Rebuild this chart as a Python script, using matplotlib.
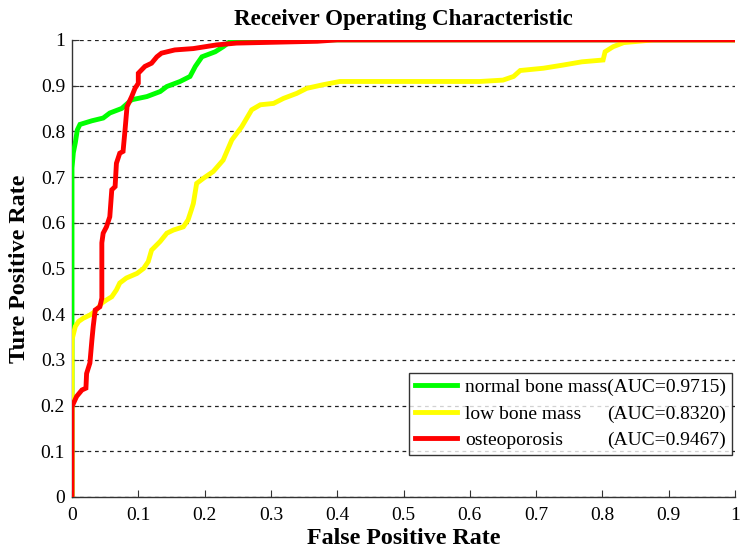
import matplotlib
matplotlib.use("Agg")
import matplotlib.pyplot as plt
import numpy as np

# ---- data ----
names = ["normal bone mass", "low bone mass", "osteoporosis"]
aucs = ["0.9715", "0.8320", "0.9467"]
colors = ["#00FF00", "#FFFF00", "#FF0000"]

fpr_normal = [0, 0, 0.002, 0.005, 0.008, 0.012, 0.03, 0.047, 0.057, 0.075, 0.09, 0.113,
              0.133, 0.143, 0.163, 0.178, 0.186, 0.196, 0.216, 0.228, 0.238, 0.245, 1.0]
tpr_normal = [0, 0.72, 0.753, 0.775, 0.803, 0.815, 0.823, 0.829, 0.84, 0.85, 0.869, 0.876,
              0.887, 0.898, 0.909, 0.92, 0.942, 0.963, 0.974, 0.985, 0.996, 1.0, 1.0]

fpr_low = [0, 0, 0.005, 0.01, 0.017, 0.027, 0.035, 0.045, 0.052, 0.06, 0.067, 0.072, 0.082,
           0.098, 0.108, 0.115, 0.12, 0.133, 0.143, 0.153, 0.168, 0.175, 0.18, 0.183, 0.188,
           0.198, 0.213, 0.228, 0.241, 0.256, 0.271, 0.284, 0.304, 0.319, 0.339, 0.354,
           0.379, 0.404, 0.44, 0.615, 0.65, 0.666, 0.676, 0.711, 0.741, 0.769, 0.801, 0.804,
           0.816, 0.832, 0.877, 1.0]
tpr_low = [0, 0.344, 0.373, 0.384, 0.391, 0.398, 0.406, 0.424, 0.431, 0.438, 0.453, 0.468, 0.479,
           0.489, 0.5, 0.515, 0.54, 0.559, 0.577, 0.584, 0.591, 0.606, 0.628, 0.642, 0.686,
           0.697, 0.712, 0.737, 0.781, 0.81, 0.847, 0.858, 0.861, 0.872, 0.883, 0.894,
           0.902, 0.909, 0.909, 0.909, 0.912, 0.92, 0.933, 0.938, 0.945, 0.952, 0.956, 0.974,
           0.985, 0.994, 1.0, 1.0]

fpr_osteo = [0, 0, 0.007, 0.015, 0.021, 0.022, 0.027, 0.03, 0.032, 0.035, 0.042, 0.045, 0.045,
             0.047, 0.052, 0.057, 0.06, 0.065, 0.067, 0.072, 0.077, 0.08, 0.083, 0.09, 0.095,
             0.1, 0.1, 0.11, 0.12, 0.128, 0.135, 0.155, 0.183, 0.218, 0.248, 0.37, 0.40, 1.0]
tpr_osteo = [0, 0.198, 0.22, 0.234, 0.238, 0.27, 0.293, 0.343, 0.373, 0.409, 0.416, 0.435, 0.556,
             0.577, 0.591, 0.613, 0.672, 0.679, 0.73, 0.752, 0.756, 0.803, 0.854, 0.876, 0.894,
             0.905, 0.927, 0.942, 0.949, 0.963, 0.971, 0.978, 0.981, 0.989, 0.993, 0.997, 1.0, 1.0]

x_ticks = [0, 0.1, 0.2, 0.3, 0.4, 0.5, 0.6, 0.7, 0.8, 0.9, 1]
y_ticks = [0, 0.1, 0.2, 0.3, 0.4, 0.5, 0.6, 0.7, 0.8, 0.9, 1]
tick_labels = ["0", "0.1", "0.2", "0.3", "0.4", "0.5", "0.6", "0.7", "0.8", "0.9", "1"]

plt.rcParams["font.family"] = ["Liberation Serif", "DejaVu Serif"]

fig = plt.figure(figsize=(7.4, 5.54), dpi=100)
ax = fig.add_axes([0.0973, 0.103, 0.896, 0.825])

lw = 3.5
series = [(fpr_normal, tpr_normal), (fpr_low, tpr_low), (fpr_osteo, tpr_osteo)]
lines = []
for (fx, ty), c in zip(series, colors):
    ln, = ax.plot(fx, ty, color=c, lw=lw, solid_joinstyle="miter", zorder=3)
    lines.append(ln)

ax.set_xlim(0, 1)
ax.set_ylim(0, 1)
ax.set_xticks(x_ticks)
ax.set_xticklabels(tick_labels)
ax.set_yticks(y_ticks)
ax.set_yticklabels(tick_labels)
ax.tick_params(direction="in", length=5, labelsize=14, colors="#333333", labelcolor="black")
ax.tick_params(axis="x", pad=7)
ax.tick_params(axis="y", pad=5)
for s in ["top", "right"]:
    ax.spines[s].set_visible(False)
for s in ["left", "bottom"]:
    ax.spines[s].set_color("#333333")
    ax.spines[s].set_linewidth(1.0)
ax.yaxis.grid(True, linestyle=(0, (3, 3)), color="#222222", linewidth=0.9)
ax.set_axisbelow(True)

ax.set_title("Receiver Operating Characteristic", fontsize=16.6, fontweight="bold", pad=11)
ax.set_xlabel("False Positive Rate", fontsize=17.3, fontweight="bold", labelpad=3)
ax.set_ylabel("Ture Positive Rate", fontsize=17.3, fontweight="bold", labelpad=8)

labels = [names[0] + "(AUC=" + aucs[0] + ")", names[1], names[2]]
leg = ax.legend(lines, labels, loc="lower right", bbox_to_anchor=(0.9955, 0.092),
                fontsize=14, frameon=True, fancybox=False, edgecolor="black",
                handlelength=2.2, handletextpad=0.4, borderpad=0.3, labelspacing=0.45,
                borderaxespad=0)
leg.get_frame().set_linewidth(1.0)
for h in leg.get_lines():
    h.set_linewidth(3.5)

fig.canvas.draw()
r = fig.canvas.get_renderer()
texts = leg.get_texts()
bb0 = texts[0].get_window_extent(r)
for i in (1, 2):
    bbi = texts[i].get_window_extent(r)
    fig.text(bb0.x1 / fig.bbox.width, bbi.y0 / fig.bbox.height,
             "(AUC=" + aucs[i] + ")", ha="right", va="bottom", fontsize=14,
             transform=fig.transFigure, zorder=10)

fig.savefig("out.png", dpi=100)
